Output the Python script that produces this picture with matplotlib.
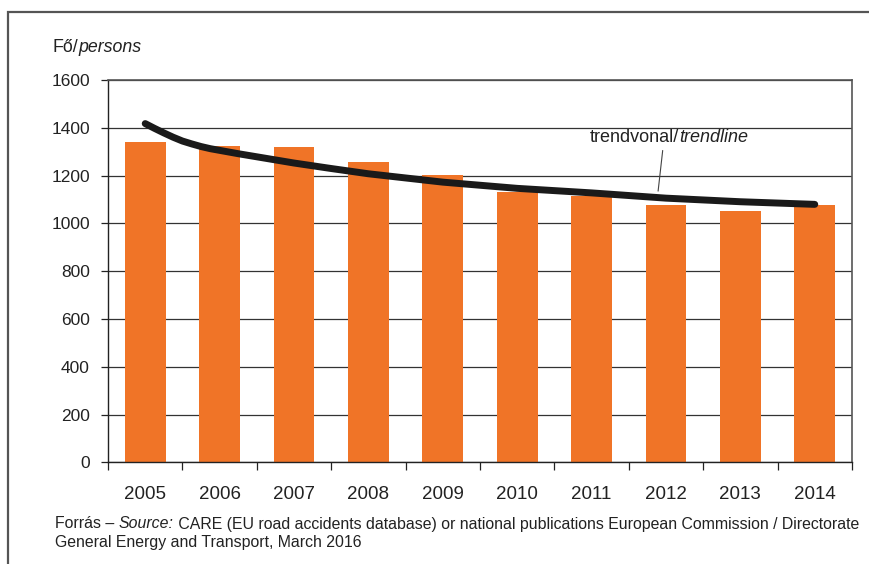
import matplotlib
matplotlib.use("Agg")
import matplotlib.pyplot as plt
from matplotlib import font_manager
from matplotlib.patches import Rectangle
import numpy as np

years = ["2005", "2006", "2007", "2008", "2009", "2010", "2011", "2012", "2013", "2014"]
persons = [1341, 1323, 1320, 1256, 1204, 1131, 1115, 1079, 1052, 1079]

# trend curve, sampled along the category axis (0 = 2005)
trend_pos = [0, 0.125, 0.25, 0.375, 0.5, 0.625, 0.75, 0.875, 1, 1.25, 1.5, 1.75, 2,
             2.5, 3, 4, 5, 6, 7, 8, 9]
trend_val = [1418, 1398, 1379, 1361, 1345, 1333, 1322, 1313, 1306, 1292, 1279, 1266, 1253,
             1230, 1208, 1173, 1147, 1128, 1106, 1091, 1080]

installed = {f.name for f in font_manager.fontManager.ttflist}
narrow = "Liberation Sans Narrow" if "Liberation Sans Narrow" in installed else "Liberation Sans"
plt.rcParams["font.family"] = ["Liberation Sans", "DejaVu Sans"]

text_col = "#222222"
bar_col = "#F07427"
note_size = 11.4

fig = plt.figure(figsize=(8.69, 5.64), dpi=100)
ax = fig.add_axes([0.1243, 0.180, 0.8561, 0.678])

x = np.arange(len(years))
ax.bar(x, persons, width=0.55, color=bar_col, zorder=2)
ax.plot(trend_pos, trend_val, color="#1a1a1a", lw=5, solid_capstyle="round",
        solid_joinstyle="round", zorder=3)

ax.set_xlim(-0.5, len(years) - 0.5)
ax.set_ylim(0, 1600)
ax.set_yticks(range(0, 1601, 200))
ax.yaxis.grid(True, color="#333333", lw=0.9)
ax.set_axisbelow(True)

ax.tick_params(axis="y", direction="out", length=5, width=0.9, color=text_col,
               labelsize=12.5, labelcolor=text_col, pad=8)
ax.set_xticks(np.arange(-0.5, len(years)), labels=[])
ax.set_xticks(x, labels=years, minor=True)
ax.tick_params(axis="x", which="major", direction="out", length=6, width=0.9, color=text_col)
ax.tick_params(axis="x", which="minor", length=0, pad=17, labelsize=13.5, labelcolor=text_col)
for lab in ax.get_xticklabels(minor=True):
    lab.set_family(narrow)

for side in ["left", "bottom"]:
    ax.spines[side].set_color("#222222")
    ax.spines[side].set_linewidth(1.0)
for side in ["top", "right"]:
    ax.spines[side].set_color("#555555")
    ax.spines[side].set_linewidth(1.2)

# trendline label with leader
t1 = ax.text(5.98, 1358, "trendvonal/", fontsize=13, color=text_col, va="center")
ax.annotate("trendline", xy=(1, 0), xycoords=t1, va="bottom", fontsize=13,
            style="italic", color=text_col)
ax.annotate("", xy=(6.89, 1124), xytext=(6.96, 1317),
            arrowprops=dict(arrowstyle="-", color="#444444", lw=0.8))

# unit label
u1 = fig.text(53 / 869, 1 - 47 / 564, "Fő/", fontsize=12.8, color=text_col, va="center")
ax.annotate("persons", xy=(1, 0), xycoords=u1, va="bottom", fontsize=12.8,
            style="italic", color=text_col)

# source note
s1 = fig.text(55 / 869, 1 - 524 / 564, "Forrás – ", fontsize=note_size, family=narrow,
              color=text_col, va="center")
s2 = ax.annotate("Source:", xy=(1, 0), xycoords=s1, va="bottom", fontsize=note_size,
                 family=narrow, style="italic", color=text_col)
ax.annotate(" CARE (EU road accidents database) or national publications European Commission / Directorate",
            xy=(1, 0), xycoords=s2, va="bottom", fontsize=note_size, family=narrow, color=text_col)
fig.text(55 / 869, 1 - 543 / 564, "General Energy and Transport, March 2016", fontsize=note_size,
         family=narrow, color=text_col, va="center")

# outer frame
fig.patches.append(Rectangle((8 / 869, -0.05), 1.2, 0.9787 + 0.05, transform=fig.transFigure,
                             fill=False, edgecolor="#555555", lw=1.6))

fig.savefig("out.png", dpi=100)
